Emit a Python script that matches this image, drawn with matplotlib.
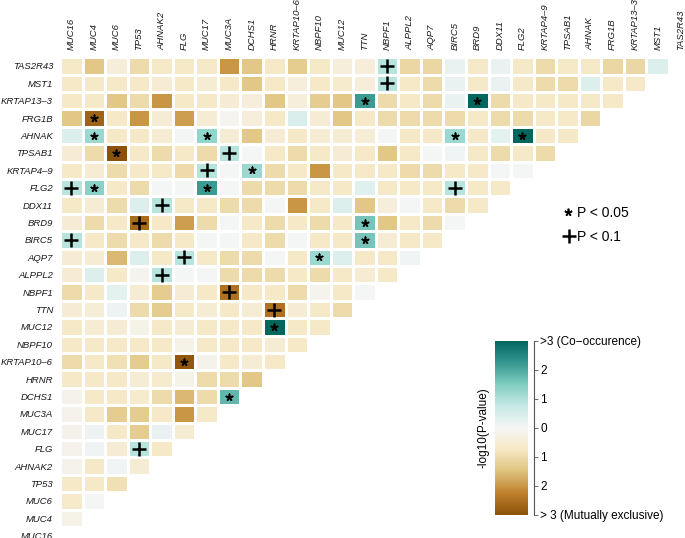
"""Mutual exclusivity / co-occurrence heatmap of mutated genes."""

import numpy as np
import matplotlib
matplotlib.use('Agg')
import matplotlib.pyplot as plt
from matplotlib.colors import LinearSegmentedColormap

# gene order along the x axis (left -> right); rows use the reverse order
genes = ['MUC16', 'MUC4', 'MUC6', 'TP53', 'AHNAK2', 'FLG', 'MUC17', 'MUC3A',
         'DCHS1', 'HRNR', 'KRTAP10–6', 'NBPF10', 'MUC12', 'TTN', 'NBPF1',
         'ALPPL2', 'AQP7', 'BIRC5', 'BRD9', 'DDX11', 'FLG2', 'KRTAP4–9',
         'TPSAB1', 'AHNAK', 'FRG1B', 'KRTAP13–3', 'MST1', 'TAS2R43']
rowGenes = genes[::-1]

# signed -log10(p): >0 co-occurrence, <0 mutually exclusive (rows top -> bottom)
logP = [
    [-0.7, -1.4, -0.4, -1.0, -0.7, -0.7, -0.7, -2.0, -1.4, -0.7, -1.3, -0.7, -0.4, -0.4,
     0.9, -1.1, -1.1, 0.2, -0.7, 0.2, -0.7, -1.0, -0.7, -0.7, -1.1, -1.1, 0.4],
    [-0.7, -0.7, -0.7, -0.7, -0.5, -0.7, -0.5, -0.7, -1.4, -0.7, -0.4, -0.7, -0.6, -0.4,
     0.9, -0.7, -1.0, 0.2, -0.7, 0.2, -0.7, -1.0, -1.0, 0.4, -0.7, -0.7],
    [-0.7, -0.7, -1.4, -1.0, -2.0, -0.7, -0.7, -0.5, -0.4, -1.4, -0.4, -1.3, -1.4, 2.2,
     -1.0, -0.7, -1.0, 0.2, 3.0, -1.0, -0.7, -0.7, -0.7, -0.7, -0.7],
    [-1.4, -2.7, -0.7, -2.0, -0.5, -1.9, -0.5, -0.05, -0.4, -0.7, 0.45, -0.5, -1.4, -0.7,
     -1.0, -1.0, -1.0, -1.0, -0.7, -1.0, -1.0, -0.7, -0.7, -1.1],
    [0.4, 1.2, -0.7, -0.7, -0.5, 0.0, 1.3, -0.5, -1.4, -0.5, -0.7, -0.5, -0.5, -0.45,
     0.0, -0.7, -0.7, 1.2, -0.7, 0.3, 3.0, -0.7, -0.7],
    [-0.5, -1.0, -3.0, -0.7, -1.0, -0.7, -1.0, 0.9, 0.0, -0.7, -1.0, -0.7, -0.5, -0.7,
     -1.4, -0.7, 0.0, 0.05, -0.7, -1.0, -0.7, -1.0],
    [-0.7, -0.5, -1.0, -0.7, -0.7, -1.0, 0.9, 0.0, 1.2, -1.0, -0.7, -2.0, -0.7, -0.7,
     -0.7, -1.0, -1.0, -0.7, -0.7, 0.0, 0.0],
    [0.9, 1.4, -0.7, -1.0, 0.0, 0.0, 2.2, 0.0, -1.0, -1.0, -1.0, -0.7, -0.7, 0.35,
     -0.7, -0.7, -0.7, 0.9, -0.7, -0.7],
    [-0.7, -0.5, -1.0, 0.4, 0.9, -0.7, -0.7, -1.0, -1.0, 0.0, -2.0, -0.7, 0.4, -1.4,
     -0.4, 0.0, -0.7, -1.0, -0.7],
    [-0.5, -1.0, -0.7, -2.6, -0.7, -1.9, -1.0, 0.0, -0.7, -1.0, -0.7, -1.0, -0.7, 1.6,
     -1.4, -0.7, -1.0, 0.0],
    [0.9, -0.7, -1.0, -0.7, -1.0, -0.7, 0.0, 0.0, -0.7, -1.0, 0.0, -0.7, -0.7, 1.6,
     -0.5, -0.7, -0.7],
    [-0.5, -0.5, -1.6, 0.4, -0.7, 0.9, -0.7, -1.0, -1.0, 0.0, -0.7, 1.2, 0.4, -0.7,
     -0.7, 0.05],
    [-0.5, 0.4, -0.7, -0.1, 0.9, 0.0, 0.0, -1.0, -1.0, -1.0, -0.7, -1.0, -0.7, -0.5, -0.7],
    [-1.0, -0.7, 0.3, -0.5, -1.3, -0.5, -0.7, -2.5, -0.7, -0.7, -1.0, -0.1, -0.7, 0.0],
    [-0.5, -0.45, 0.15, -1.0, -1.3, -0.7, -0.5, -0.7, -0.5, -2.5, -0.5, -0.7, -1.0],
    [-0.7, -0.5, -0.5, -0.2, -0.7, -0.5, -0.7, -0.7, -0.7, 3.0, -0.7, -0.7],
    [-0.7, -0.7, -0.7, -0.7, -0.7, -0.2, -0.7, -0.7, -0.7, -0.5, -0.7],
    [-1.0, -0.7, -0.9, -1.3, -0.7, -2.9, -0.15, -0.7, -0.5, -0.7],
    [-0.7, -0.7, -0.7, -0.5, -0.6, -0.2, -1.0, -1.0, -1.4],
    [-0.15, -0.7, -0.7, -0.6, -1.0, -1.6, -1.0, 1.8],
    [-0.15, -0.7, -1.3, -1.3, -0.7, -2.0, -0.7],
    [-0.15, 0.15, -0.7, -1.3, 0.2, -0.5],
    [-0.15, 0.1, -0.5, 0.9, -0.7],
    [-0.15, -0.7, 0.05, -0.5],
    [-0.7, -0.7, -0.9],
    [-0.65, 0.0],
    [-0.2],
    [],
]

# (row gene, column gene) pairs with significance marks
starPairs = [('KRTAP13–3', 'TTN'), ('KRTAP13–3', 'BRD9'), ('FRG1B', 'MUC4'),
             ('AHNAK', 'MUC4'), ('AHNAK', 'MUC17'), ('AHNAK', 'BIRC5'), ('AHNAK', 'FLG2'),
             ('TPSAB1', 'MUC6'), ('KRTAP4–9', 'DCHS1'), ('FLG2', 'MUC4'), ('FLG2', 'MUC17'),
             ('BRD9', 'TTN'), ('BIRC5', 'TTN'), ('AQP7', 'NBPF10'), ('MUC12', 'HRNR'),
             ('KRTAP10–6', 'FLG'), ('DCHS1', 'MUC3A')]
plusPairs = [('TAS2R43', 'NBPF1'), ('MST1', 'NBPF1'), ('TPSAB1', 'MUC3A'),
             ('KRTAP4–9', 'MUC17'), ('FLG2', 'MUC16'), ('FLG2', 'BIRC5'), ('DDX11', 'AHNAK2'),
             ('BRD9', 'TP53'), ('BIRC5', 'MUC16'), ('AQP7', 'FLG'), ('ALPPL2', 'AHNAK2'),
             ('NBPF1', 'MUC3A'), ('TTN', 'HRNR'), ('FLG', 'TP53')]

cbTicks = [3, 2, 1, 0, -1, -2, -3]
cbLabels = ['>3 (Co\u2212occurence)', '2', '1', '0', '1', '2', '> 3 (Mutually exclusive)']

n = len(genes)
mat = np.full((n, n), np.nan)
for i, row in enumerate(logP):
    mat[i, :len(row)] = row

cmap = LinearSegmentedColormap.from_list(
    'brbg', ['#8c510a', '#bf812d', '#dfc27d', '#f6e8c3', '#f5f5f5',
             '#c7eae5', '#80cdc1', '#35978f', '#01665e'])

plt.rcParams['font.family'] = ['Liberation Sans', 'DejaVu Sans']
fig = plt.figure(figsize=(6.85, 5.38), dpi=100)
ax = fig.add_axes([60 / 685, -0.0120, 631.6 / 685, 0.9055])

mesh = ax.pcolormesh(np.arange(n + 1), np.arange(n + 1), np.ma.masked_invalid(mat),
                     cmap=cmap, vmin=-3, vmax=3, edgecolors='white', linewidth=0.8)
ax.set_xlim(0, n)
ax.set_ylim(n, 0)
for s in ax.spines.values():
    s.set_visible(False)

ax.set_xticks(np.arange(n) + 0.5)
ax.set_xticklabels(genes, rotation=90, fontsize=6.8, style='italic', color='#1a1a1a')
ax.xaxis.tick_top()
ax.set_yticks(np.arange(n) + 0.5)
ax.set_yticklabels(rowGenes, fontsize=6.8, style='italic', color='#1a1a1a')
ax.tick_params(length=0, pad=5)

colIdx = {g: k for k, g in enumerate(genes)}
rowIdx = {g: k for k, g in enumerate(rowGenes)}
sx = [colIdx[c] + 0.5 for r, c in starPairs]
sy = [rowIdx[r] + 0.5 for r, c in starPairs]
ax.scatter(sx, sy, marker=(5, 2, 0), s=22, linewidths=1.2, color='black')
px = [colIdx[c] + 0.5 for r, c in plusPairs]
py = [rowIdx[r] + 0.5 for r, c in plusPairs]
ax.scatter(px, py, marker='+', s=90, linewidths=1.8, color='black')

# significance legend
fig.add_artist(plt.Line2D([568 / 685], [1 - 212 / 538], marker=(5, 2, 0), markersize=5.5,
                          mew=1.2, color='black', transform=fig.transFigure))
fig.text(577 / 685, 1 - 213 / 538, 'P < 0.05', fontsize=10, va='center', ha='left')
fig.add_artist(plt.Line2D([569 / 685], [1 - 236 / 538], marker='+', markersize=9.5,
                          mew=1.8, color='black', transform=fig.transFigure))
fig.text(577 / 685, 1 - 237 / 538, 'P < 0.1', fontsize=10, va='center', ha='left')

# colour bar
cax = fig.add_axes([495 / 685, 23 / 538, 33 / 685, 174.3 / 538])
cb = fig.colorbar(mesh, cax=cax)
cb.outline.set_visible(False)
cb.set_ticks(cbTicks)
cb.set_ticklabels(cbLabels)
cax.spines['right'].set_visible(True)
cax.spines['right'].set_position(('outward', 4))
cax.spines['right'].set_linewidth(0.8)
cax.spines['right'].set_color('#555555')
cax.tick_params(axis='y', length=3, width=0.6, color='#555555', labelsize=8.5, pad=2)
cax.yaxis.set_label_position('left')
cax.set_ylabel('-log10(P-value)', fontsize=8.5, labelpad=4)

fig.savefig('out.png', dpi=100)
